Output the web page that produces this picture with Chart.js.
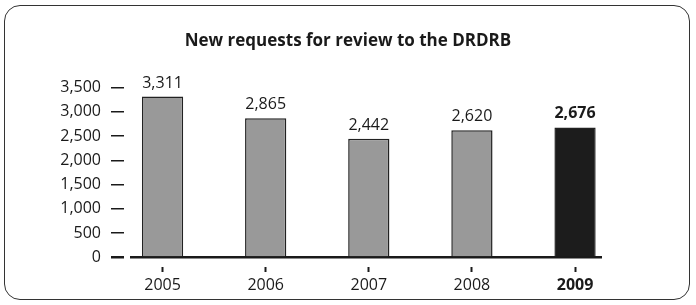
<!DOCTYPE html>
<html>
<head>
<meta charset="utf-8">
<script src="https://cdn.jsdelivr.net/npm/chart.js@4/dist/chart.umd.min.js"></script>
<style>
  html, body { margin: 0; padding: 0; background: #fff; }
  #wrap { position: relative; width: 696px; height: 305px; }
  #marco {
    position: absolute; left: 4px; top: 5px; width: 686px; height: 295px;
    border: 1.5px solid #333; border-radius: 16px; box-sizing: border-box;
  }
  canvas { position: absolute; left: 0; top: 0; }
</style>
</head>
<body>
<div id="wrap">
  <div id="marco"></div>
  <canvas id="chart" width="696" height="305"></canvas>
</div>
<script>
// Datos del gráfico
const anios = ["2005", "2006", "2007", "2008", "2009"];
const solicitudes = [3311, 2865, 2442, 2620, 2676];
const ticksY = [0, 500, 1000, 1500, 2000, 2500, 3000, 3500];

const gris = "#999999";
const negro = "#1c1c1c";
const fuente = "'Open Sans', 'Noto Sans', sans-serif";

const formato = v => v.toLocaleString("en-US");

// Etiquetas encima de cada barra
const etiquetas = {
  id: "etiquetas",
  afterDatasetsDraw(chart) {
    const ctx = chart.ctx;
    const meta = chart.getDatasetMeta(0);
    ctx.save();
    ctx.fillStyle = "#1a1a1a";
    ctx.textAlign = "center";
    ctx.textBaseline = "alphabetic";
    meta.data.forEach((bar, i) => {
      const ultimo = i === anios.length - 1;
      ctx.font = (ultimo ? "bold " : "") + "16px " + fuente;
      ctx.fillText(formato(solicitudes[i]), bar.x, bar.y - 9);
    });
    ctx.restore();
  }
};

const ctx = document.getElementById("chart").getContext("2d");

new Chart(ctx, {
  type: "bar",
  data: {
    labels: anios,
    datasets: [{
      data: solicitudes,
      backgroundColor: anios.map((a, i) => i === anios.length - 1 ? negro : gris),
      borderColor: "#222",
      borderWidth: 1.5,
      borderSkipped: "bottom",
      barPercentage: 0.4,
      categoryPercentage: 1
    }]
  },
  options: {
    responsive: false,
    animation: false,
    layout: { padding: { top: 31, right: 60, bottom: 0, left: 60 } },
    plugins: {
      legend: { display: false },
      tooltip: { enabled: false },
      title: {
        display: true,
        text: "New requests for review to the DRDRB",
        color: "#1a1a1a",
        font: { family: fuente, size: 17, weight: "bold" },
        padding: { top: 0, bottom: 36 }
      }
    },
    scales: {
      x: {
        offset: true,
        afterFit: s => { s.height = 47.5; },
        border: { display: false },
        grid: {
          offset: false,
          drawOnChartArea: false,
          drawTicks: true,
          tickLength: 16,
          tickWidth: 2,
          tickColor: "#1a1a1a",
          tickBorderDash: [5, 100],
          tickBorderDashOffset: 96
        },
        ticks: {
          color: "#1a1a1a",
          padding: 2,
          font: ctx => ({
            family: fuente,
            size: 16,
            weight: ctx.index === anios.length - 1 ? "bold" : "normal"
          })
        }
      },
      y: {
        min: 0,
        max: 3500,
        afterFit: s => { s.width = 51; },
        afterBuildTicks: s => { s.ticks = ticksY.map(v => ({ value: v })); },
        border: {
          display: false,
          // el 0 lleva la marca corta y la línea base del eje
          dash: c => c.tick && c.tick.value === 0 ? [13, 6, 472, 2000] : [13, 2000]
        },
        grid: {
          drawTicks: false,
          color: "#1a1a1a",
          lineWidth: c => c.tick && c.tick.value === 0 ? 2.5 : 1.5
        },
        ticks: {
          color: "#1a1a1a",
          padding: 10,
          font: { family: fuente, size: 16 },
          callback: v => formato(v)
        }
      },
      // eje vacío a la derecha, solo para dejar margen
      margen: {
        position: "right",
        afterFit: s => { s.width = 9.4; },
        border: { display: false },
        grid: { display: false },
        ticks: { display: false }
      }
    }
  },
  plugins: [etiquetas]
});
</script>
</body>
</html>
